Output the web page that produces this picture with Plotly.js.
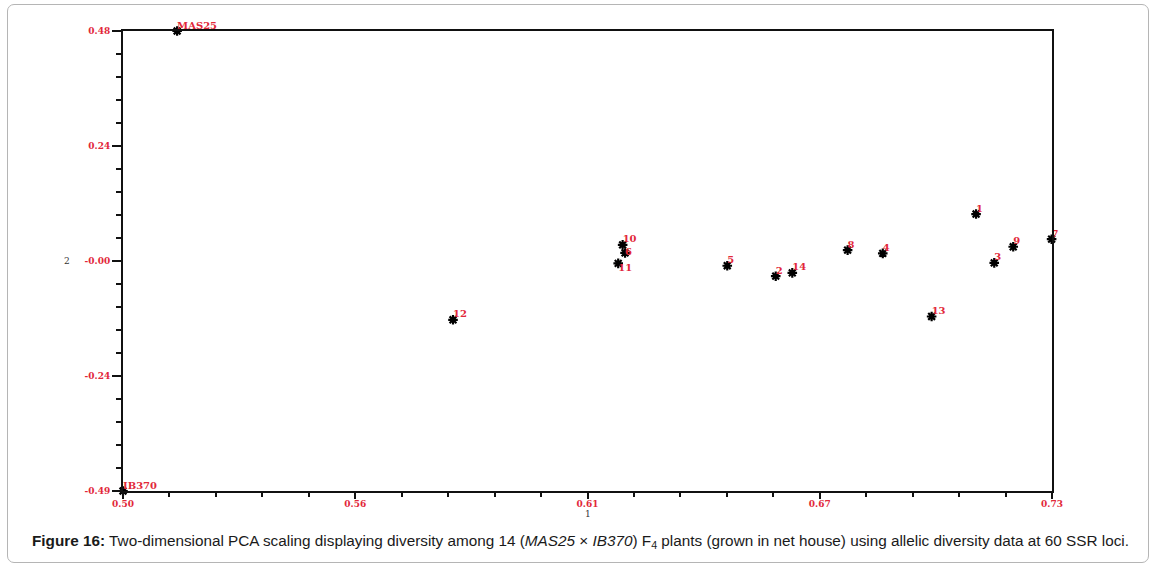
<!DOCTYPE html>
<html>
<head>
<meta charset="utf-8">
<script src="https://cdn.plot.ly/plotly-3.0.1.min.js"></script>
<style>
  html, body { margin: 0; padding: 0; background: #fff; }
  #wrap { position: relative; width: 1155px; height: 566px; }
  #chart { position: absolute; left: 0; top: 0; width: 1155px; height: 566px; }
  #frame { position: absolute; left: 7px; top: 4px; width: 1140px; height: 557px;
           border: 1px solid #b5b5b5; border-radius: 7px; pointer-events: none; }
</style>
</head>
<body>
<div id="wrap">
  <div id="chart"></div>
  <div id="frame"></div>
</div>
<script>
// Plant labels and their PCA coordinates (dimension 1, dimension 2)
const plantLabels = ["MAS25", "IB370", "12", "10", "6", "11", "5", "2", "14", "8", "4", "13", "1", "3", "9", "7"];
const dim1 = [0.5134, 0.5000, 0.5817, 0.6237, 0.6243, 0.6226, 0.6496, 0.6616, 0.6657, 0.6794, 0.6881, 0.7002, 0.7112, 0.7157, 0.7204, 0.7299];
const dim2 = [0.485, -0.485, -0.124, 0.034, 0.017, -0.005, -0.010, -0.032, -0.025, 0.023, 0.016, -0.117, 0.099, -0.004, 0.030, 0.046];
const labelPositions = ["top right", "top right", "top right", "top right", "middle right", "bottom right",
  "top right", "top right", "top right", "top right", "top right", "top right", "top right", "top right", "top right", "top right"];

// Axis ticks
const xTickVals = [0.50, 0.5575, 0.615, 0.6725, 0.73];
const xTickText = ["0.50", "0.56", "0.61", "0.67", "0.73"];
const yTickVals = [-0.485, -0.2425, 0, 0.2425, 0.485];
const yTickText = ["-0.49", "-0.24", "-0.00", "0.24", "0.48"];

const red = "#e2283a";
const tickFont = { family: "DejaVu Serif", size: 9, color: red, weight: "bold" };

const points = {
  x: dim1,
  y: dim2,
  mode: "markers",
  type: "scatter",
  cliponaxis: false,
  marker: { symbol: "asterisk-open", size: 8, color: "#000", line: { color: "#000", width: 2.2 } },
  text: plantLabels,
  hoverinfo: "x+y+text"
};

const labels = {
  x: dim1,
  y: dim2,
  text: plantLabels,
  mode: "text",
  type: "scatter",
  cliponaxis: false,
  textposition: labelPositions,
  textfont: { family: "DejaVu Serif", size: 10, color: red, weight: "bold" },
  hoverinfo: "skip"
};

const layout = {
  width: 1155,
  height: 566,
  margin: { l: 123, r: 103, t: 31, b: 75 },
  paper_bgcolor: "rgba(0,0,0,0)",
  plot_bgcolor: "#fff",
  showlegend: false,
  font: { family: "DejaVu Serif", color: "#222" },
  xaxis: {
    range: [0.50, 0.73],
    tickmode: "array",
    tickvals: xTickVals,
    ticktext: xTickText,
    ticks: "outside",
    ticklen: 6,
    tickwidth: 2,
    tickcolor: "#111",
    ticklabelstandoff: -3,
    minor: { tickmode: "linear", tick0: 0.50, dtick: 0.0115, ticks: "outside", ticklen: 4, tickwidth: 2, tickcolor: "#111" },
    showgrid: false,
    zeroline: false,
    showline: true,
    linecolor: "#111",
    linewidth: 2,
    mirror: true,
    tickfont: tickFont,
    fixedrange: true
  },
  yaxis: {
    range: [-0.485, 0.485],
    tickmode: "array",
    tickvals: yTickVals,
    ticktext: yTickText,
    ticks: "outside",
    ticklen: 9,
    tickwidth: 2,
    tickcolor: "#111",
    minor: { tickmode: "linear", tick0: -0.485, dtick: 0.0485, ticks: "outside", ticklen: 5, tickwidth: 2, tickcolor: "#111" },
    showgrid: false,
    zeroline: false,
    showline: true,
    linecolor: "#111",
    linewidth: 2,
    mirror: true,
    tickfont: tickFont,
    fixedrange: true
  },
  annotations: [
    { text: "1", xref: "paper", yref: "paper", x: 0.5, y: 0, yshift: -23, xanchor: "center", yanchor: "middle",
      showarrow: false, font: { family: "DejaVu Serif", size: 9, color: "#333" } },
    { text: "2", xref: "paper", yref: "paper", x: 0, y: 0.5, xshift: -56, xanchor: "center", yanchor: "middle",
      showarrow: false, font: { family: "DejaVu Serif", size: 9, color: "#333" } },
    { text: "<b>Figure 16:</b> Two-dimensional PCA scaling displaying diversity among 14 (<i>MAS25</i> × <i>IB370</i>) F<sub>4</sub> plants (grown in net house) using allelic diversity data at 60 SSR loci.",
      xref: "paper", yref: "paper", x: 0.5, y: 0, xshift: 580 - 123 - 0.5 * 929, yshift: -50,
      xanchor: "center", yanchor: "middle", showarrow: false,
      font: { family: "Liberation Sans", size: 15.3, color: "#1a1a1a" } }
  ]
};

Plotly.newPlot("chart", [points, labels], layout, { displayModeBar: false });
</script>
</body>
</html>
